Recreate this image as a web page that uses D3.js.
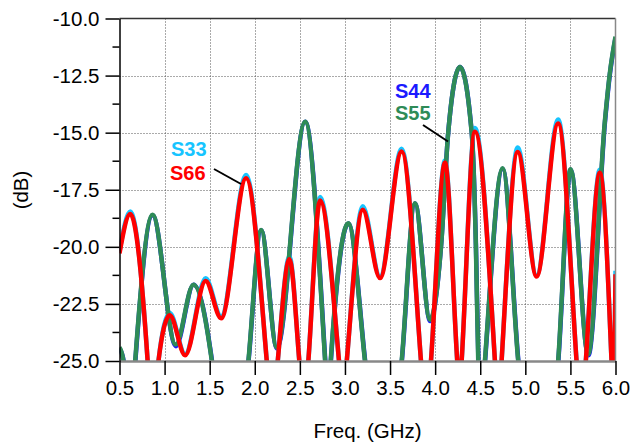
<!DOCTYPE html>
<html>
<head>
<meta charset="utf-8">
<script src="https://cdn.jsdelivr.net/npm/d3@7"></script>
<style>
  body { margin: 0; background: #fff; }
  svg { display: block; }
  text { font-family: "Liberation Sans", Arial, sans-serif; }
</style>
</head>
<body>
<svg id="chart" width="630" height="446"></svg>
<script>
// Return loss traces, [frequency in GHz, magnitude in dB]
const s33 = [
  [0.500,-20.20],[0.619,-18.45],[0.812,-25],[0.873,-29],[0.932,-25],[1.058,-22.90],
  [1.228,-24.70],[1.455,-21.38],[1.627,-23.05],[1.904,-16.85],[2.133,-25],[2.194,-28],
  [2.255,-25],[2.384,-20.42],[2.494,-25],[2.544,-27.5],[2.594,-25],[2.724,-17.82],
  [2.934,-25],[2.977,-27],[3.020,-25],[3.197,-18.22],[3.389,-21.30],[3.629,-15.70],
  [3.843,-25],[3.898,-28],[3.954,-25],[4.109,-16.22],[4.245,-25],[4.270,-26.5],
  [4.294,-25],[4.441,-14.80],[4.663,-25],[4.700,-27.5],[4.737,-25],[4.916,-15.65],
  [5.125,-21.25],[5.364,-14.42],[5.568,-25],[5.619,-28],[5.671,-25],[5.826,-16.62],
  [5.956,-25],[5.976,-27],[6.000,-21.05]
];
const s66 = [
  [0.500,-20.28],[0.619,-18.56],[0.812,-25],[0.873,-29],[0.932,-25],[1.058,-23.00],
  [1.228,-24.75],[1.455,-21.50],[1.627,-23.13],[1.904,-17.00],[2.133,-25],[2.194,-28],
  [2.255,-25],[2.384,-20.54],[2.494,-25],[2.544,-27.5],[2.594,-25],[2.724,-17.97],
  [2.934,-25],[2.977,-27],[3.020,-25],[3.197,-18.38],[3.389,-21.37],[3.629,-15.83],
  [3.843,-25],[3.898,-28],[3.954,-25],[4.109,-16.32],[4.245,-25],[4.270,-26.5],
  [4.294,-25],[4.441,-14.96],[4.663,-25],[4.700,-27.5],[4.737,-25],[4.916,-15.85],
  [5.125,-21.30],[5.364,-14.60],[5.568,-25],[5.619,-28],[5.671,-25],[5.826,-16.76],
  [5.956,-25],[5.976,-27],[6.000,-21.20]
];
const s44 = [
  [0.500,-24.45],[0.546,-25],[0.609,-29],[0.676,-25],[0.867,-18.62],[1.125,-24.35],
  [1.321,-21.66],[1.526,-25],[1.729,-33],[1.931,-25],[2.071,-19.27],[2.246,-24.45],
  [2.559,-14.52],[2.782,-25],[2.812,-27],[2.844,-25],[3.038,-18.98],[3.224,-25],
  [3.424,-33],[3.631,-25],[3.777,-18.10],[3.945,-23.25],[4.065,-20.0],[4.145,-15.0],
  [4.276,-12.12],[4.406,-15.0],[4.453,-20.0],[4.480,-25],[4.518,-27],[4.554,-25],
  [4.749,-16.58],[4.923,-25],[5.141,-33],[5.366,-25],[5.503,-16.62],[5.699,-24.75],
  [5.884,-14.5],[5.939,-12.4],[6.000,-10.85]
];
const s55 = [
  [0.500,-24.40],[0.544,-25],[0.607,-29],[0.674,-25],[0.866,-18.60],[1.123,-24.28],
  [1.320,-21.66],[1.524,-25],[1.727,-33],[1.929,-25],[2.070,-19.26],[2.244,-24.40],
  [2.558,-14.52],[2.780,-25],[2.810,-27],[2.842,-25],[3.037,-18.97],[3.222,-25],
  [3.422,-33],[3.629,-25],[3.776,-18.09],[3.943,-23.19],[4.065,-20.0],[4.145,-15.0],
  [4.275,-12.12],[4.405,-15.0],[4.452,-20.0],[4.478,-25],[4.516,-27],[4.552,-25],
  [4.748,-16.56],[4.921,-25],[5.139,-33],[5.364,-25],[5.502,-16.60],[5.697,-24.70],
  [5.882,-14.5],[5.937,-12.4],[6.000,-10.80]
];

const xTicks = [0.5, 1.0, 1.5, 2.0, 2.5, 3.0, 3.5, 4.0, 4.5, 5.0, 5.5, 6.0];
const yTicks = [-25.0, -22.5, -20.0, -17.5, -15.0, -12.5, -10.0];
const yMinorTicks = [-23.75, -21.25, -18.75, -16.25, -13.75, -11.25];

const svg = d3.select("#chart");
const plotL = 119.5, plotR = 615.5, plotT = 18.5, plotB = 361;

const x = d3.scaleLinear().domain([0.5, 6.0]).range([plotL, plotR]);
const y = d3.scaleLinear().domain([-25, -10]).range([plotB, plotT]);

// dotted grid
const grid = svg.append("g").attr("stroke", "#555").attr("stroke-width", 1)
  .attr("stroke-dasharray", "1,2");
grid.selectAll("line.v").data(xTicks.slice(1, -1)).join("line").attr("class", "v")
  .attr("x1", d => Math.round(x(d)) + 0.5).attr("x2", d => Math.round(x(d)) + 0.5)
  .attr("y1", plotT).attr("y2", plotB);
grid.selectAll("line.h").data(yTicks.slice(1, -1)).join("line").attr("class", "h")
  .attr("y1", d => Math.round(y(d)) + 0.5).attr("y2", d => Math.round(y(d)) + 0.5)
  .attr("x1", plotL).attr("x2", plotR);

// traces, clipped to the plotting area
svg.append("clipPath").attr("id", "plot-clip")
  .append("rect").attr("x", plotL).attr("y", plotT)
  .attr("width", plotR - plotL).attr("height", plotB - plotT);

const line = d3.line()
  .x(d => x(d[0])).y(d => y(d[1]))
  .curve(d3.curveMonotoneX);

const traces = [
  { data: s44, color: "#1a1aff" },
  { data: s33, color: "#16c4ff" },
  { data: s55, color: "#2e8b57" },
  { data: s66, color: "#ff0000" }
];
const plot = svg.append("g").attr("clip-path", "url(#plot-clip)");
plot.selectAll("path").data(traces).join("path")
  .attr("d", d => line(d.data))
  .attr("fill", "none")
  .attr("stroke", d => d.color)
  .attr("stroke-width", 4.5)
  .attr("stroke-linejoin", "round");

// frame
svg.append("line").attr("x1", plotL).attr("x2", plotR).attr("y1", plotT).attr("y2", plotT)
  .attr("stroke", "#333").attr("stroke-width", 1.5);
svg.append("line").attr("x1", plotR).attr("x2", plotR).attr("y1", plotT).attr("y2", plotB)
  .attr("stroke", "#888").attr("stroke-width", 1.5);

// x axis
const xAxis = svg.append("g").attr("transform", `translate(0,${plotB})`)
  .call(d3.axisBottom(x).tickValues(xTicks).tickFormat(d3.format(".1f"))
    .tickSize(14).tickSizeOuter(0).tickPadding(5));
xAxis.select(".domain").attr("stroke", "#888").attr("stroke-width", 2.5);
xAxis.selectAll(".tick line").attr("stroke", "#000").attr("stroke-width", 1.5);
xAxis.selectAll(".tick text").attr("font-size", 20.5).attr("fill", "#000")
  .attr("font-family", "'Liberation Sans', Arial, sans-serif");

// y axis with minor ticks
const fmt = d3.formatLocale({ decimal: ".", thousands: ",", grouping: [3],
  currency: ["", ""], minus: "-" }).format(".1f");
svg.append("g").attr("transform", `translate(${plotL},0)`)
  .selectAll("line").data(yMinorTicks).join("line")
  .attr("x1", -7).attr("x2", 0)
  .attr("y1", d => y(d)).attr("y2", d => y(d))
  .attr("stroke", "#000").attr("stroke-width", 1.5);
const yAxis = svg.append("g").attr("transform", `translate(${plotL},0)`)
  .call(d3.axisLeft(y).tickValues(yTicks).tickFormat(fmt)
    .tickSize(14).tickSizeOuter(0).tickPadding(6));
yAxis.select(".domain").attr("stroke", "#000").attr("stroke-width", 1.5);
yAxis.selectAll(".tick line").attr("stroke", "#000").attr("stroke-width", 1.5);
yAxis.selectAll(".tick text").attr("font-size", 20.5).attr("fill", "#000")
  .attr("font-family", "'Liberation Sans', Arial, sans-serif");

// axis titles
svg.append("text").attr("x", (plotL + plotR) / 2).attr("y", 438)
  .attr("text-anchor", "middle").attr("font-size", 20.5).text("Freq. (GHz)");
svg.append("text").attr("transform", "translate(28,190) rotate(-90)")
  .attr("text-anchor", "middle").attr("font-size", 20.5).text("(dB)");

// trace labels with leader lines
const labels = [
  { text: "S33", color: "#16c4ff", x: 171, y: 156 },
  { text: "S66", color: "#ff0000", x: 170, y: 180 },
  { text: "S44", color: "#1a1aff", x: 395, y: 98 },
  { text: "S55", color: "#2e8b57", x: 395, y: 119.5 }
];
svg.selectAll("text.lbl").data(labels).join("text").attr("class", "lbl")
  .attr("x", d => d.x).attr("y", d => d.y)
  .attr("font-size", 20).attr("font-weight", "bold")
  .attr("fill", d => d.color).text(d => d.text);

const leaders = [
  [[214, 169], [241, 184]],
  [[423, 125], [448, 141.5]]
];
svg.selectAll("line.leader").data(leaders).join("line").attr("class", "leader")
  .attr("x1", d => d[0][0]).attr("y1", d => d[0][1])
  .attr("x2", d => d[1][0]).attr("y2", d => d[1][1])
  .attr("stroke", "#000").attr("stroke-width", 2);
</script>
</body>
</html>
